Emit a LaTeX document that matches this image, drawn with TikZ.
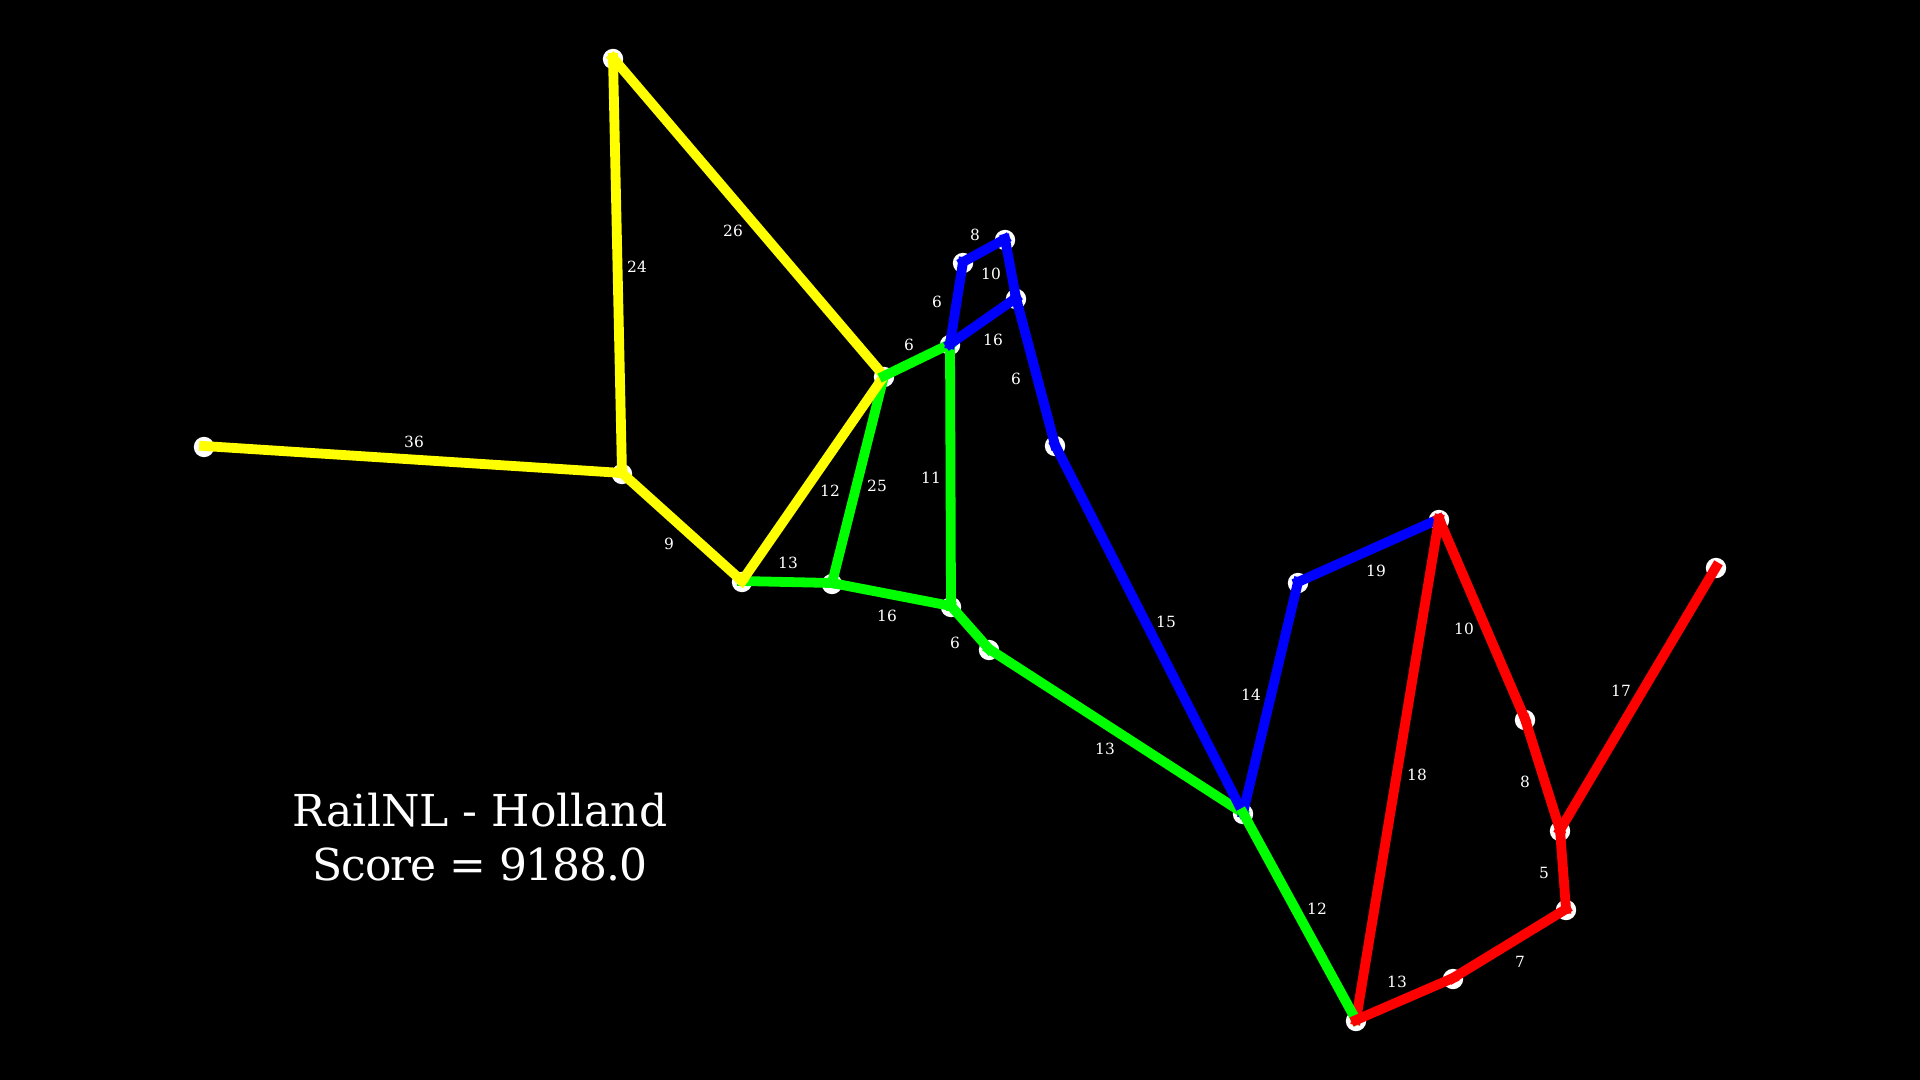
\documentclass[tikz,border=0pt]{standalone}
\usepackage{fontspec}
\setmainfont{DejaVu Serif}
\definecolor{trackred}{RGB}{255,0,0}
\definecolor{trackgreen}{RGB}{0,255,0}
\definecolor{trackblue}{RGB}{0,0,255}
\definecolor{trackyellow}{RGB}{255,255,0}
\tikzset{
  station/.style={circle, fill=white, inner sep=0pt, minimum size=10.2pt},
  track/.style={line width=4.9pt, line cap=rect, draw=#1},
  lineoff/.style={xshift=0pt, yshift=0.5pt},
  dist/.style={text=white, inner sep=0pt, font=\fontsize{7.7}{9}\selectfont},
}
\begin{document}
\begin{tikzpicture}[x=0.5pt, y=-0.5pt]
    \fill[black] (0,0) rectangle (1920,1080);
    \useasboundingbox (0,0) rectangle (1920,1080);

    \node[station] (a) at (204,447) {};
    \node[station] (b) at (622,474) {};
    \node[station] (c) at (613,59) {};
    \node[station] (d) at (884,377) {};
    \node[station] (e) at (742,582) {};
    \node[station] (f) at (832,584) {};
    \node[station] (g) at (950,345) {};
    \node[station] (h) at (951,607) {};
    \node[station] (i) at (989,650) {};
    \node[station] (j) at (1243,814) {};
    \node[station] (k) at (1356,1021) {};
    \node[station] (l) at (1453,979) {};
    \node[station] (m) at (1566,910) {};
    \node[station] (n) at (1560,831) {};
    \node[station] (o) at (1525,720) {};
    \node[station] (p) at (1439,520) {};
    \node[station] (q) at (1716,568) {};
    \node[station] (r) at (1298,583) {};
    \node[station] (s) at (1055,446) {};
    \node[station] (t) at (1016,299) {};
    \node[station] (u) at (1005,240) {};
    \node[station] (v) at (963,263) {};

    % tracks
    \foreach \from/\to/\col in {
        d/f/trackgreen, e/f/trackgreen, f/h/trackgreen, g/h/trackgreen,
        h/i/trackgreen, i/j/trackgreen,
        a/b/trackyellow, b/c/trackyellow, c/d/trackyellow, d/e/trackyellow, b/e/trackyellow,
        d/g/trackgreen,
        g/v/trackblue, v/u/trackblue, u/t/trackblue, t/g/trackblue, t/s/trackblue,
        s/j/trackblue, j/r/trackblue, r/p/trackblue,
        p/k/trackred, j/k/trackgreen, k/l/trackred, l/m/trackred, m/n/trackred, n/o/trackred,
        o/p/trackred, n/q/trackred}
        \draw[track=\col] ([lineoff]\from.center) -- ([lineoff]\to.center);

    % distances
    \foreach \txt/\px/\py in {
        36/414/442, 24/637/267, 26/733/231, 9/669/544, 13/788/563, 12/830/491,
        25/877/486, 11/931/478, 16/887/616, 6/955/643, 6/909/345, 6/937/302,
        8/975/235, 10/991/274, 16/993/340, 6/1016/379, 15/1166/622, 13/1105/749,
        14/1251/695, 19/1376/571, 10/1464/629, 18/1417/775, 17/1621/691, 8/1525/782,
        5/1544/873, 12/1317/909, 13/1397/982, 7/1520/962}
        \node[dist] at (\px,\py) {\txt};

    \node[text=white, align=center, inner sep=0pt, font=\fontsize{22}{27}\selectfont] (title) at (480,837) {RailNL - Holland\\\addfontfeature{LetterSpace=-2.5}Score = 9188.0};
\end{tikzpicture}
\end{document}
